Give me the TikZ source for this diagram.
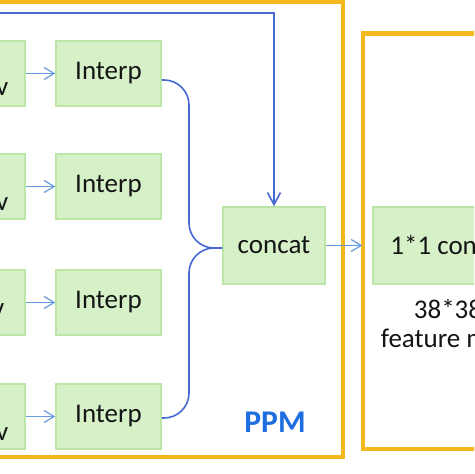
\documentclass[tikz,border=0pt]{standalone}
\usepackage{fontspec}
\setmainfont{Carlito}
\usetikzlibrary{arrows.meta,calc}
\definecolor{boxfill}{RGB}{214,241,200}
\definecolor{boxline}{RGB}{188,229,168}
\definecolor{amber}{RGB}{245,183,30}
\definecolor{linkblue}{RGB}{70,105,210}
\definecolor{arrowblue}{RGB}{100,155,225}
\definecolor{ppmblue}{RGB}{30,110,225}
\definecolor{ink}{RGB}{20,20,20}
\begin{document}
\begin{tikzpicture}[x=0.5pt,y=-0.5pt,
 gbox/.style={draw=boxline, fill=boxfill, line width=0.75pt, inner sep=0pt, minimum width=52.5pt, minimum height=32.5pt, font=\fontsize{13.5}{16}\selectfont, text=ink},
 frame/.style={draw=amber, line width=2.3pt},
 feed/.style={draw=arrowblue, line width=0.6pt, -{Straight Barb[length=5pt,width=6pt]}},
 link/.style={draw=linkblue, line width=0.8pt},
 lbl/.style={font=\fontsize{13.5}{14.5}\selectfont, text=ink, inner sep=0pt}]
\useasboundingbox (0,0) rectangle (474,474);
\fill[white] (0,0) rectangle (474,474);
\begin{scope}
\clip (0,0) rectangle (474,474);
\draw[frame] (-20,2) rectangle (343,457);
\draw[frame] (363,33.5) rectangle (520,449);
% left (cut) boxes
\node[gbox] (l1) at (-27.5,73.5) {};
\node[gbox] (l2) at (-27.5,186.5) {};
\node[gbox] (l3) at (-27.5,302.5) {};
\node[gbox] (l4) at (-27.5,416.5) {};
\node[lbl, anchor=base east] (t1) at ($(l1.east)+(-17,22)$) {conv};
\node[lbl, anchor=base east] (t2) at ($(l2.east)+(-17,24)$) {conv};
\node[lbl, anchor=base east] (t3) at ($(l3.east)+(-21,14)$) {conv};
\node[lbl, anchor=base east] (t4) at ($(l4.east)+(-17,24)$) {conv};
% interp boxes
\node[gbox] (i1) at (108.5,73.5) {Interp};
\node[gbox] (i2) at (108.5,186.5) {Interp};
\node[gbox] (i3) at (108.5,302.5) {Interp};
\node[gbox] (i4) at (108.5,416.5) {Interp};
\node[gbox, minimum width=51pt, minimum height=38.5pt] (cc) at (274,245.5) {concat};
\node[gbox, minimum width=66.5pt, minimum height=38.5pt] (cv) at (439.5,245.5) {1*1 conv};
\node[lbl, align=center, anchor=base] (fm) at (448,347) {38*38\\feature map};
\node[font=\fontsize{15.8}{18}\selectfont\bfseries, text=ppmblue, inner sep=0pt] (ppm) at (275,422) {PPM};
% connectors
\draw[feed] (l1) -- (i1);
\draw[feed] (l2) -- (i2);
\draw[feed] (l3) -- (i3);
\draw[feed] (l4) -- (i4);
\draw[feed, shorten >=5pt] (cc) -- (cv);
\coordinate (src) at (-20,13);
\draw[link, -{Straight Barb[length=6pt,width=6.5pt]}] (src) -| (cc.north);
\coordinate (bus) at (189,248);
\draw[link, rounded corners=12.5pt] ([yshift=-3.25pt]i1.east) -| (bus) -- (cc.west |- bus);
\draw[link, rounded corners=12.5pt] ([yshift=-0.75pt]i4.east) -| (bus) -- (cc.west |- bus);
\end{scope}
\end{tikzpicture}
\end{document}
